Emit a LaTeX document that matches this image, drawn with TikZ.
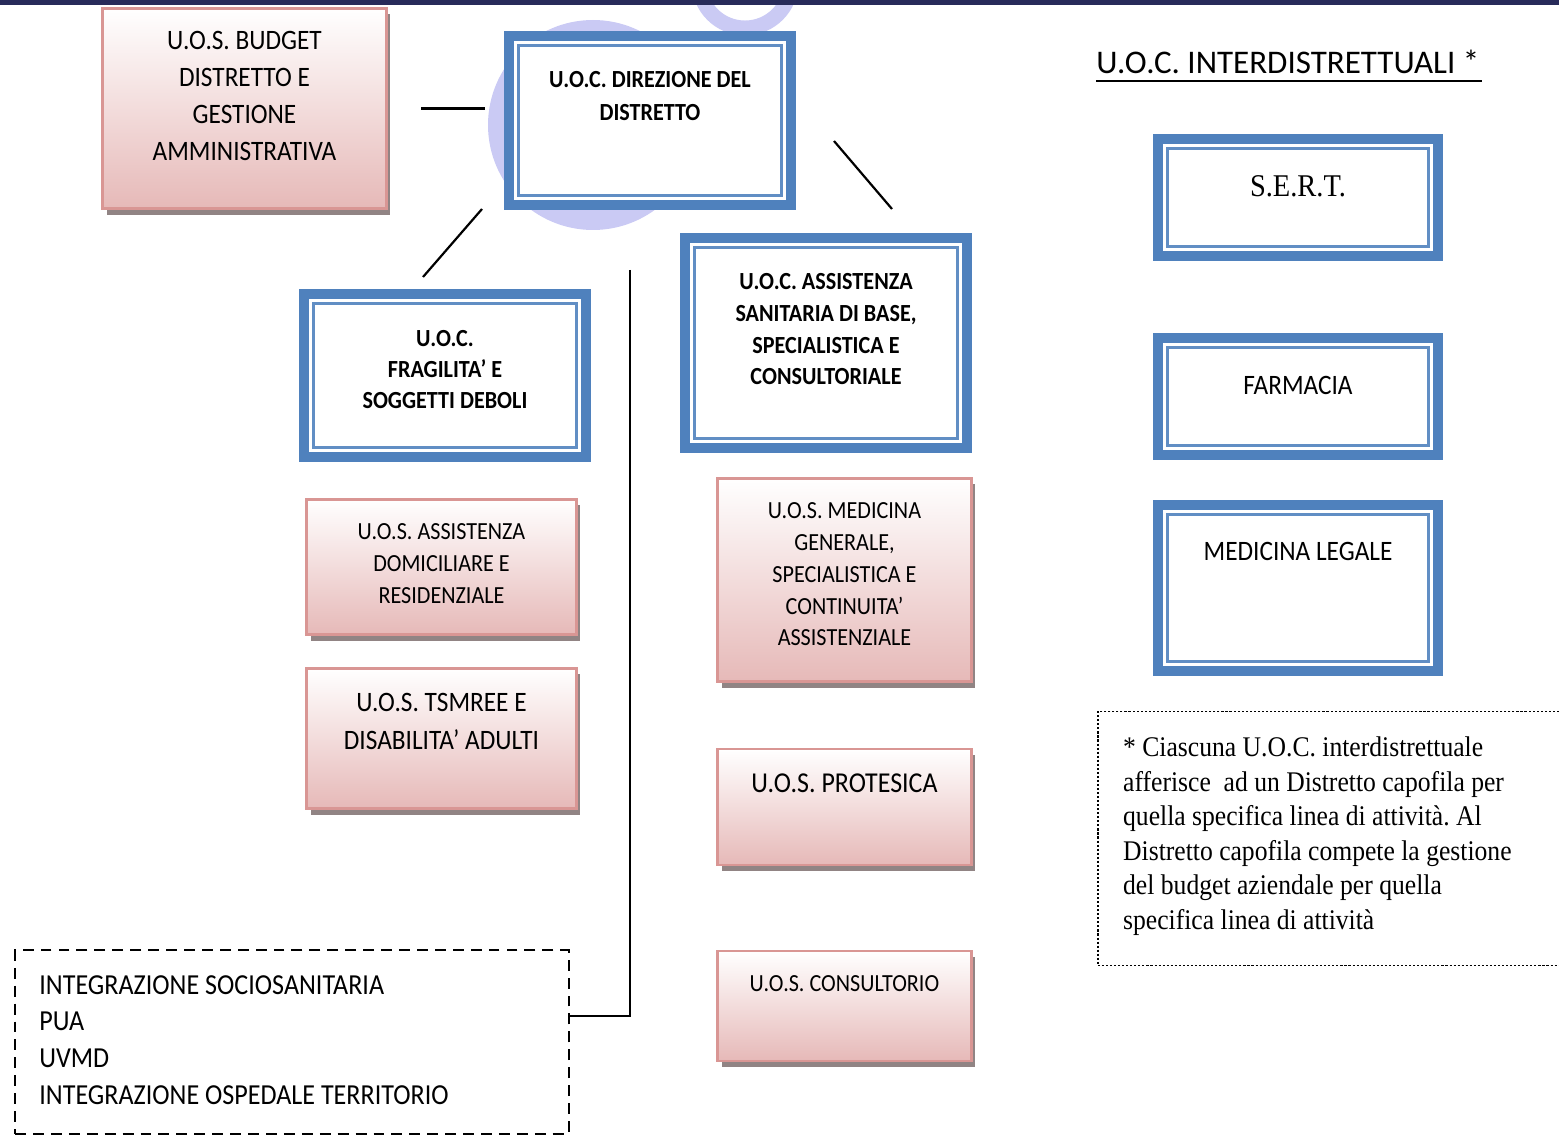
\documentclass[tikz,border=0pt]{standalone}
\usepackage{fontspec}
\setmainfont{Carlito}[FakeStretch=0.9]
\newfontfamily\carlitow{Carlito}
\newfontfamily\timesf{Liberation Serif}[FakeStretch=0.9]
\usetikzlibrary{positioning,shadows}
\frenchspacing
\newlength\px
\setlength\px{0.5669pt}
\definecolor{uocblue}{RGB}{79,129,189}
\definecolor{uospink}{RGB}{230,185,184}
\definecolor{uosedge}{RGB}{217,150,148}
\definecolor{uosshade}{RGB}{145,132,132}
\definecolor{topbar}{RGB}{40,43,90}
\definecolor{logo}{RGB}{202,202,244}

\begin{document}
\begin{tikzpicture}[x=0.02cm, y=-0.02cm,
    uoc/.style={draw=uocblue, line width=10\px, fill=white, inner sep=0pt, outer sep=0pt},
    uos/.style={draw=uosedge, line width=2.5\px, top color=white, bottom color=uospink,
      inner sep=0pt, outer sep=0pt,
      drop shadow={shadow xshift=4\px, shadow yshift=-6\px, fill=uosshade, opacity=1}},
    lbl/.style={inner sep=0pt, align=center},
    link/.style={line width=2.2\px}]
  \useasboundingbox (0,0) rectangle (1559,1138);

  % faded logo behind the head box
  \fill[logo] (593,125) circle[radius=105];
  \draw[logo, line width=15\px] (745,-18) circle[radius=46];
  \fill[topbar] (0,0) rectangle (1559,5);

  % district units
  \node[uos, minimum width=285\px, minimum height=201\px] (budget) at (244.5,108.5) {};
  \node[lbl, font=\fontsize{16}{21}\selectfont, below=23\px of budget.north] (budget-t)
    {U.O.S. BUDGET\\DISTRETTO E\\GESTIONE\\AMMINISTRATIVA};

  \node[uoc, minimum width=284\px, minimum height=169\px] (dir) at (650,120.5) {};
  \node[lbl, font=\bfseries\fontsize{14}{18.7}\selectfont, below=35\px of dir.north] (dir-t)
    {U.O.C. DIREZIONE DEL\\DISTRETTO};

  \node[uoc, minimum width=284\px, minimum height=163\px] (frag) at (445,375.5) {};
  \node[lbl, font=\bfseries\fontsize{14}{17.6}\selectfont, below=36\px of frag.north] (frag-t)
    {U.O.C.\\FRAGILITA’ E\\SOGGETTI DEBOLI};

  \node[uoc, minimum width=284\px, minimum height=210\px] (assist) at (826,343) {};
  \node[lbl, font=\bfseries\fontsize{14}{18}\selectfont, below=35\px of assist.north] (assist-t)
    {U.O.C. ASSISTENZA\\SANITARIA DI BASE,\\SPECIALISTICA E\\CONSULTORIALE};

  \node[uos, minimum width=271\px, minimum height=136\px] (domic) at (441.5,567) {};
  \node[lbl, font=\fontsize{14}{18.1}\selectfont, below=24\px of domic.north] (domic-t)
    {U.O.S. ASSISTENZA\\DOMICILIARE E\\RESIDENZIALE};

  \node[uos, minimum width=271\px, minimum height=141\px] (tsmree) at (441.5,738.5) {};
  \node[lbl, font=\fontsize{16}{21.5}\selectfont, below=25\px of tsmree.north] (tsmree-t)
    {U.O.S. TSMREE E\\DISABILITA’ ADULTI};

  \node[uos, minimum width=255\px, minimum height=204\px] (medgen) at (844.5,580) {};
  \node[lbl, font=\fontsize{14}{18.1}\selectfont, below=24\px of medgen.north] (medgen-t)
    {U.O.S. MEDICINA\\GENERALE,\\SPECIALISTICA E\\CONTINUITA’\\ASSISTENZIALE};

  \node[uos, minimum width=255\px, minimum height=116\px] (protes) at (844.5,807) {};
  \node[lbl, font=\fontsize{16.4}{20}\selectfont, below=24\px of protes.north] (protes-t)
    {U.O.S. PROTESICA};

  \node[uos, minimum width=255\px, minimum height=110\px] (consul) at (844.5,1006) {};
  \node[lbl, font=\fontsize{14}{18}\selectfont, below=24\px of consul.north] (consul-t)
    {U.O.S. CONSULTORIO};

  % interdistrict units
  \node[inner sep=0pt, anchor=base west, font=\carlitow\fontsize{18.8}{23}\selectfont] (inter) at (1096,74)
    {U.O.C. INTERDISTRETTUALI *};
  \draw[link] ([yshift=-7\px]inter.base west) -- ([yshift=-7\px,xshift=2\px]inter.base east);

  \node[uoc, minimum width=282\px, minimum height=117\px] (sert) at (1298,197.5) {};
  \node[lbl, font=\timesf\fontsize{18}{22}\selectfont, below=36\px of sert.north] (sert-t) {S.E.R.T.};

  \node[uoc, minimum width=282\px, minimum height=117\px] (farm) at (1298,396.5) {};
  \node[lbl, font=\fontsize{16}{20}\selectfont, below=38\px of farm.north] (farm-t) {FARMACIA};

  \node[uoc, minimum width=282\px, minimum height=166\px] (medleg) at (1298,588) {};
  \node[lbl, font=\fontsize{16}{20}\selectfont, below=37\px of medleg.north] (medleg-t) {MEDICINA LEGALE};

  \foreach \b in {dir,frag,assist,sert,farm,medleg}
    \draw[uocblue!90, line width=3\px] ([shift={(9.5,9.5)}]\b.north west) rectangle ([shift={(-9.5,-9.5)}]\b.south east);

  % notes
  \node[draw, line width=1.2\px, dash pattern=on 1.2pt off 1.1pt, minimum width=465\px, minimum height=255\px,
    inner sep=0pt, outer sep=0pt] (note) at (1329.5,838.5) {};
  \node[inner sep=0pt, align=left, font=\timesf\fontsize{16.2}{19.7}\selectfont,
    below right=25\px and 25\px of note.north west] (note-t)
    {* Ciascuna U.O.C. interdistrettuale\\afferisce\ \ ad un Distretto capofila per\\quella specifica linea di attività. Al\\Distretto capofila compete la gestione\\del budget aziendale per quella\\specifica linea di attività};

  \node[draw, line width=2\px, dash pattern=on 6.2pt off 4pt, minimum width=556\px, minimum height=184\px,
    inner sep=0pt, outer sep=0pt] (integ) at (292,1042) {};
  \node[inner sep=0pt, align=left, font=\fontsize{16.5}{20.8}\selectfont,
    below right=25\px and 24\px of integ.north west] (integ-t)
    {INTEGRAZIONE SOCIOSANITARIA\\PUA\\UVMD\\INTEGRAZIONE OSPEDALE TERRITORIO};

  % connectors
  \coordinate (c1) at (482,209);
  \coordinate (c2) at (423,277);
  \coordinate (c3) at (834,141);
  \coordinate (c4) at (892,209);
  \coordinate (c5) at (630,270);
  \draw[link, shorten <=35\px, shorten >=24\px] (budget.east) -- (budget.east -| dir.west);
  \draw[link] (c1) -- (c2);
  \draw[link] (c3) -- (c4);
  \draw[link] (c5) |- ([yshift=26\px]integ.east);
\end{tikzpicture}
\end{document}
